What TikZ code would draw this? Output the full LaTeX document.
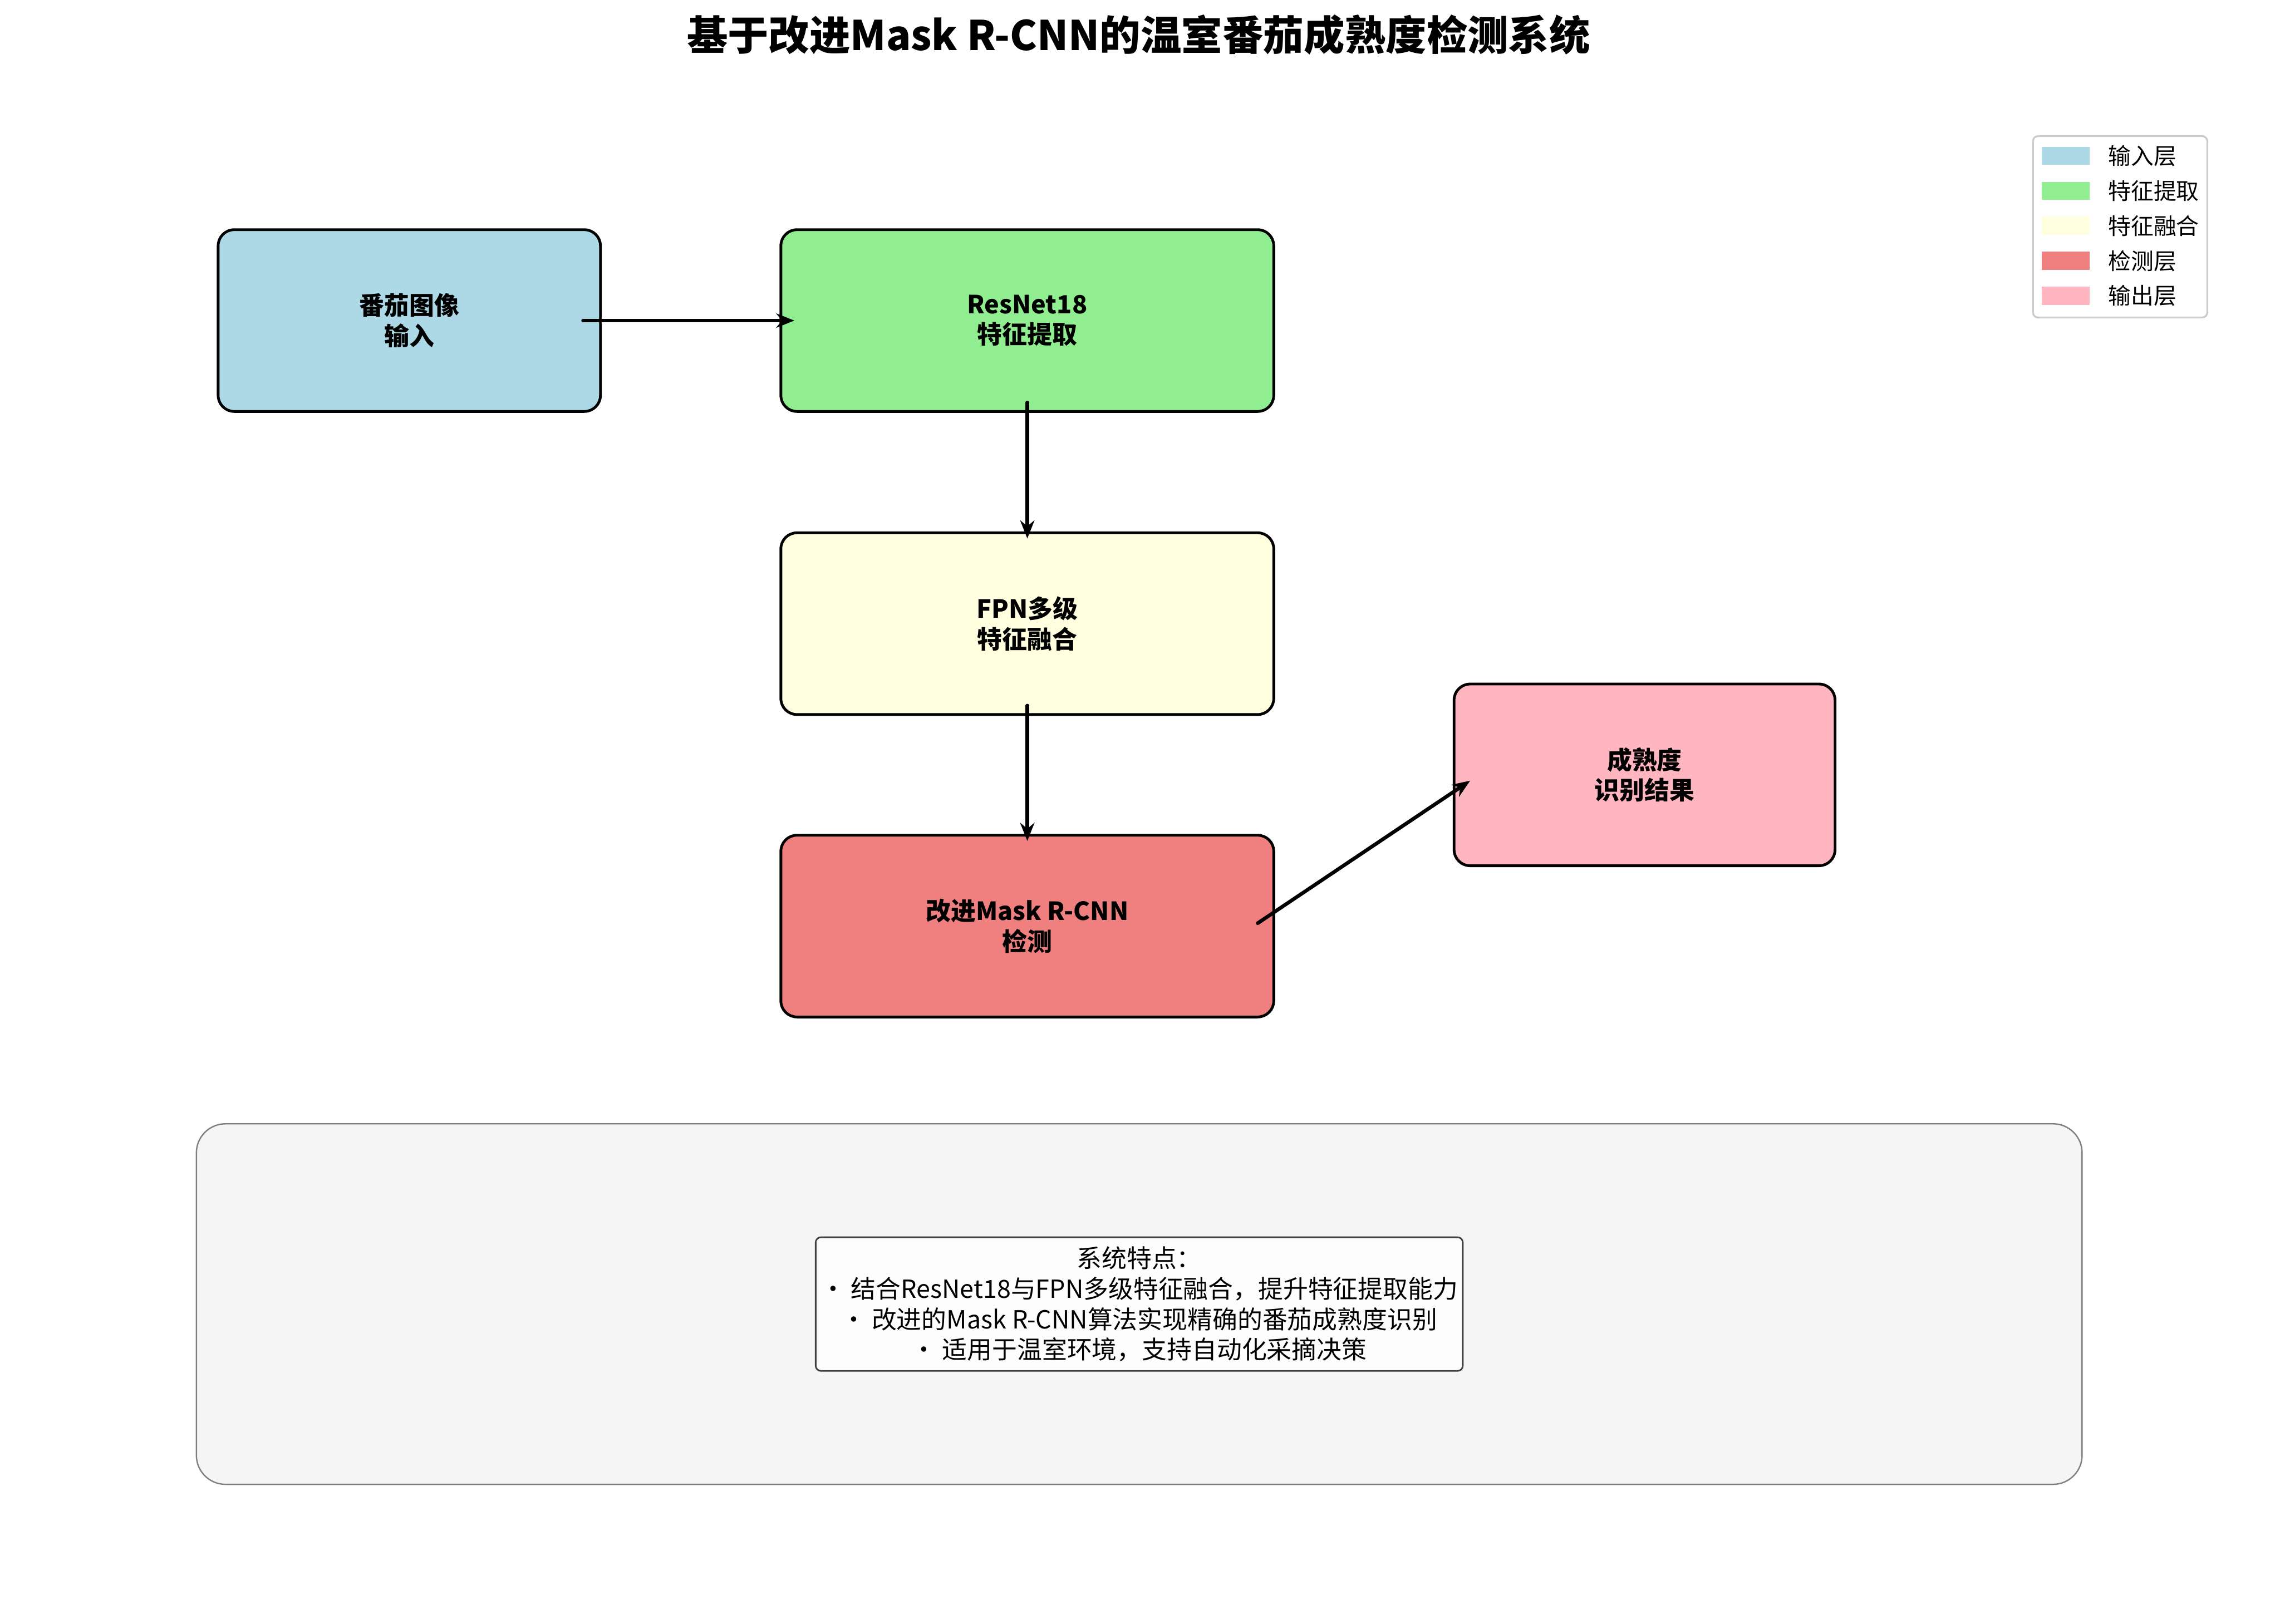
\documentclass[tikz,border=0pt]{standalone}
\usepackage{fontspec}
\setmainfont{Noto Sans CJK SC}
\usetikzlibrary{arrows.meta}
\definecolor{inblue}{HTML}{ADD8E6}
\definecolor{featgreen}{HTML}{90EE90}
\definecolor{fuseyellow}{HTML}{FFFFE0}
\definecolor{detred}{HTML}{F08080}
\definecolor{outpink}{HTML}{FFB6C1}
\definecolor{panelgray}{HTML}{F5F5F5}

\begin{document}
\begin{tikzpicture}[
  font=\fontsize{11}{13.4}\selectfont,
  stage/.style={rectangle, rounded corners=0.25cm, draw=black, line width=1.2pt, minimum height=2.815cm, align=center, font=\fontsize{11}{13.4}\selectfont\bfseries},
  flow/.style={black, line width=1.6pt, line cap=round, -{Stealth[length=2.8mm, width=2.2mm]}},
  key/.style={rectangle, minimum width=0.74cm, minimum height=0.28cm, inner sep=0pt},
  keytext/.style={anchor=west, inner sep=0pt, font=\fontsize{10}{12}\selectfont},
]
\useasboundingbox (0,0) rectangle (35.306,-25.146);
\node[font=\fontsize{18}{21}\selectfont\bfseries] (title) at (17.63,-0.54) {基于改进Mask R-CNN的温室番茄成熟度检测系统};
\node[stage, fill=inblue, minimum width=5.92cm] (img) at (6.338,-4.965) {番茄图像\\输入};
\node[stage, fill=featgreen, minimum width=7.633cm] (res) at (15.908,-4.965) {ResNet18\\特征提取};
\node[stage, fill=fuseyellow, minimum width=7.633cm] (fpn) at (15.908,-9.659) {FPN多级\\特征融合};
\node[stage, fill=detred, minimum width=7.633cm] (det) at (15.908,-14.343) {改进Mask R-CNN\\检测};
\node[stage, fill=outpink, minimum width=5.9cm] (out) at (25.466,-12.001) {成熟度\\识别结果};
\draw[flow] ([xshift=-0.29cm]img.east) -- ([xshift=0.23cm]res.west);
\draw[flow] ([yshift=0.16cm]res.south) -- ([yshift=-0.11cm]fpn.north);
\draw[flow] ([yshift=0.16cm]fpn.south) -- ([yshift=-0.11cm]det.north);
\draw[flow] ([xshift=-0.27cm, yshift=0.045cm]det.east) -- ([xshift=0.27cm, yshift=-0.09cm]out.west);
\node[rectangle, rounded corners=0.45cm, draw=gray, line width=0.6pt, fill=panelgray, minimum width=29.2cm, minimum height=5.584cm] (panel) at (17.641,-20.197) {};
\node[rectangle, rounded corners=0.08cm, draw=black!75, line width=0.7pt, fill=white, fill opacity=0.8, text opacity=1, align=center, inner sep=2pt, minimum width=10.02cm, minimum height=2.07cm] (note) at (17.641,-20.197) {系统特点：\\• 结合ResNet18与FPN多级特征融合，提升特征提取能力\\• 改进的Mask R-CNN算法实现精确的番茄成熟度识别\\• 适用于温室环境，支持自动化采摘决策};
\node[rectangle, rounded corners=0.08cm, draw=black!20, line width=0.8pt, fill=white, minimum width=2.70cm, minimum height=2.81cm] (legend) at (32.83,-3.513) {};
\node[key, fill=inblue] (k1) at (31.99,-2.413) {};
\node[key, fill=featgreen] (k2) at (31.99,-2.955) {};
\node[key, fill=fuseyellow] (k3) at (31.99,-3.497) {};
\node[key, fill=detred] (k4) at (31.99,-4.039) {};
\node[key, fill=outpink] (k5) at (31.99,-4.580) {};
\node[keytext] (t1) at (32.64,-2.413) {输入层};
\node[keytext] (t2) at (32.64,-2.955) {特征提取};
\node[keytext] (t3) at (32.64,-3.497) {特征融合};
\node[keytext] (t4) at (32.64,-4.039) {检测层};
\node[keytext] (t5) at (32.64,-4.580) {输出层};
\end{tikzpicture}
\end{document}
